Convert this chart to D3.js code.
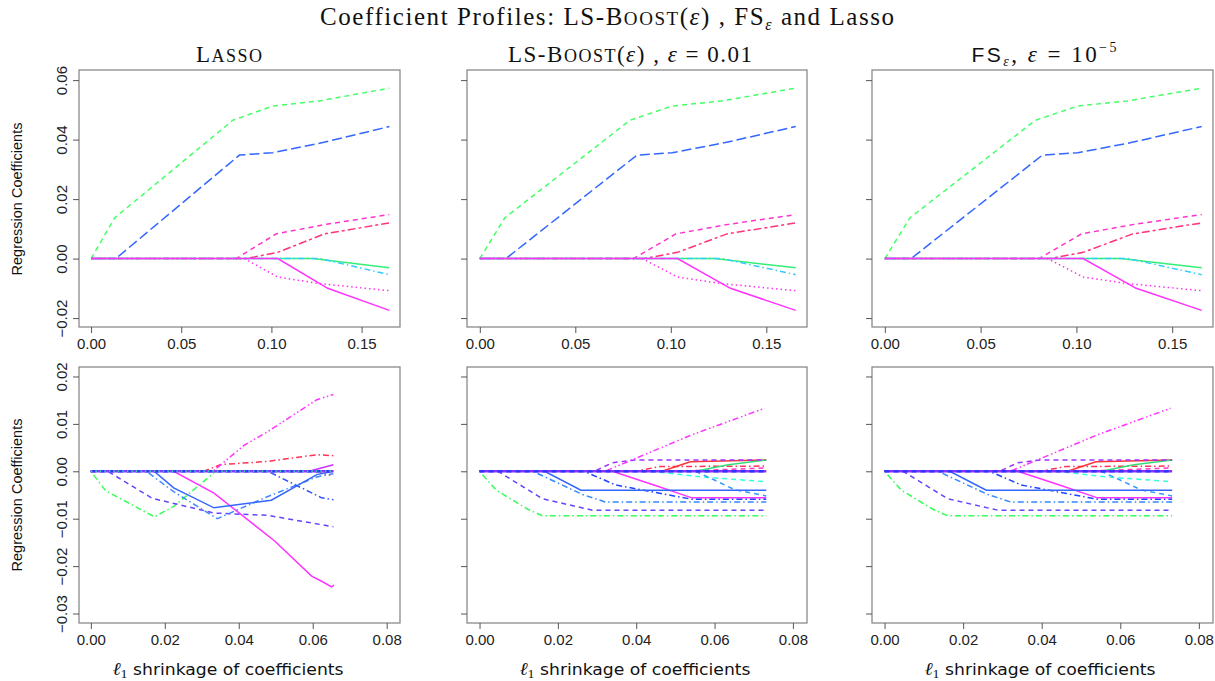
<!DOCTYPE html>
<html><head><meta charset="utf-8">
<script src="https://cdn.jsdelivr.net/npm/d3@7"></script>
<style>body{margin:0;background:#fff}</style>
</head><body><svg id="c" width="1215" height="681"></svg>
<script>
// ---------- tick values ----------
const topTicksX = [0, 0.05, 0.10, 0.15];
const topTicksY = [-0.02, 0, 0.02, 0.04, 0.06];
const botTicksX = [0, 0.02, 0.04, 0.06, 0.08];
const botTicksY = [-0.03, -0.02, -0.01, 0, 0.01, 0.02];

// ---------- top row data ([l1 shrinkage, coefficient]) ----------
const topGreenDash   = [[0,0],[0.0131,0.0137],[0.0786,0.0465],[0.1008,0.0513],[0.1266,0.0530],[0.1654,0.0573]];
const topBlueLong    = [[0,0],[0.0137,0],[0.0823,0.0348],[0.1008,0.0356],[0.1285,0.0390],[0.1654,0.0444]];
const topMagentaDash = [[0,0],[0.0805,0],[0.1026,0.0083],[0.1300,0.0115],[0.1654,0.0148]];
const topRedTwoDash  = [[0,0],[0.0860,0],[0.1035,0.0021],[0.1294,0.0083],[0.1654,0.0120]];
const topPinkDot     = [[0,0],[0.0850,0],[0.1035,-0.0062],[0.1266,-0.0084],[0.1654,-0.0108]];
const topGreenSolid  = [[0,0],[0.1229,0],[0.1654,-0.0031]];
const topCyanDotDash = [[0,0],[0.1270,0],[0.1654,-0.0054]];
const topMagentaSolid= [[0,0],[0.1035,0],[0.1312,-0.0100],[0.1654,-0.0174]];

// ---------- bottom row, Lasso ----------
const lasGreenDotDash  = [[0,0],[0.0040,-0.0041],[0.0172,-0.0096],[0.0224,-0.0074],[0.0338,0],[0.0656,0]];
const lasSlateDash     = [[0,0],[0.0046,0],[0.0166,-0.0057],[0.0333,-0.0088],[0.0479,-0.0093],[0.0656,-0.0117]];
const lasBlueSolid     = [[0,0],[0.0171,0],[0.0224,-0.0035],[0.0333,-0.0077],[0.0488,-0.0061],[0.0611,-0.0007],[0.0656,0]];
const lasLightDotDash  = [[0,0],[0.0150,0],[0.0224,-0.0043],[0.0342,-0.0100],[0.0470,-0.0056],[0.0611,-0.0012],[0.0656,-0.0005]];
const lasBlueDotDash   = [[0,0],[0.0479,0],[0.0624,-0.0056],[0.0656,-0.0060]];
const lasMagentaSolid  = [[0,0],[0.0224,0],[0.0333,-0.0046],[0.0497,-0.0147],[0.0597,-0.0221],[0.0624,-0.0232],[0.0651,-0.0244],[0.0658,-0.0240]];
const lasMagentaDotDash= [[0,0],[0.0330,0],[0.0415,0.0055],[0.0479,0.0084],[0.0611,0.0151],[0.0656,0.0162]];
const lasRedDotDash    = [[0,0],[0.0306,0],[0.0350,0.0014],[0.0479,0.0021],[0.0611,0.0035],[0.0656,0.0033]];
const lasPurpleSolid   = [[0,0],[0.0590,0],[0.0656,0.0014]];
const lasRedDot        = [[0,0],[0.0600,0],[0.0656,-0.0010]];
const lasTealZero      = [[0,0],[0.0656,0]];
const lasPurpleZero    = [[0,0],[0.0656,0]];
const lasBlueZero      = [[0,0],[0.0656,0]];

// ---------- bottom row, LS-Boost / FS ----------
const bstGreenDotDash  = [[0,0],[0.0043,-0.0040],[0.0123,-0.0080],[0.0161,-0.0094],[0.0732,-0.0094]];
const bstSlateDash     = [[0,0],[0.0047,0],[0.0161,-0.0058],[0.0288,-0.0082],[0.0732,-0.0082]];
const bstBlueSolid     = [[0,0],[0.0166,0],[0.0259,-0.0040],[0.0732,-0.0040]];
const bstLightDotDash  = [[0,0],[0.0136,0],[0.0263,-0.0049],[0.0322,-0.0065],[0.0732,-0.0065]];
const bstBlueDotDash   = [[0,0],[0.0267,0],[0.0348,-0.0029],[0.0542,-0.0059],[0.0732,-0.0059]];
const bstMagentaSolid  = [[0,0],[0.0339,0],[0.0449,-0.0030],[0.0542,-0.0056],[0.0732,-0.0056]];
const bstMagentaDotDash= [[0,0],[0.0320,0],[0.0542,0.0077],[0.0728,0.0133]];
const bstPurpleDash    = [[0,0],[0.0293,0],[0.0339,0.0018],[0.0398,0.0024],[0.0732,0.0024]];
const bstRedSolid      = [[0,0],[0.0466,0],[0.0538,0.0020],[0.0732,0.0024]];
const bstGreenSolid    = [[0,0],[0.0551,0],[0.0635,0.0014],[0.0732,0.0024]];
const bstCyanDash      = [[0,0],[0.0440,0],[0.0567,-0.0012],[0.0732,-0.0022]];
const bstSkyDash       = [[0,0],[0.0551,0],[0.0601,-0.0019],[0.0652,-0.0039],[0.0732,-0.0052]];
const bstRedDotDash    = [[0,0],[0.0398,0],[0.0460,0.0010],[0.0732,0.0011]];
const bstPinkDash      = [[0,0],[0.0500,0],[0.0732,0.0007]];
const bstPurpleZero    = [[0,0],[0.0732,0]];
const bstBlueZero      = [[0,0],[0.0732,0]];

// ---------- styles ----------
const DASH = {solid:null, dashed:"5,4", longdash:"10,4", dotted:"1.5,3", dotdash:"1.5,3,6,3", twodash:"3,3,8,3", dotdotdash:"1.5,2.5,1.5,2.5,6,3"};
const topSeries = [
  {d:topGreenDash,  c:"#44ff66", l:"dashed"},
  {d:topBlueLong,   c:"#3366ff", l:"longdash"},
  {d:topMagentaDash,c:"#ff33cc", l:"dashed"},
  {d:topRedTwoDash, c:"#ff3377", l:"twodash"},
  {d:topPinkDot,    c:"#ff33ee", l:"dotted"},
  {d:topGreenSolid, c:"#33ee77", l:"solid"},
  {d:topCyanDotDash,c:"#33ccff", l:"dotdash"},
  {d:topMagentaSolid,c:"#ff33ff", l:"solid"}
];
const lasSeries = [
  {d:lasRedDot,        c:"#ff3355", l:"dotted"},
  {d:lasPurpleSolid,   c:"#cc33ff", l:"solid"},
  {d:lasRedDotDash,    c:"#ff3355", l:"dotdash"},
  {d:lasMagentaDotDash,c:"#ff33ff", l:"dotdotdash"},
  {d:lasMagentaSolid,  c:"#ff33ff", l:"solid"},
  {d:lasGreenDotDash,  c:"#33ff55", l:"dotdash"},
  {d:lasSlateDash,     c:"#6644ff", l:"dashed"},
  {d:lasLightDotDash,  c:"#4488ff", l:"dotdash"},
  {d:lasBlueDotDash,   c:"#3355ff", l:"dotdash"},
  {d:lasBlueSolid,     c:"#3366ff", l:"solid"},
  {d:lasPurpleZero,    c:"#8833ff", l:"solid", w:2.6},
  {d:lasBlueZero,      c:"#3333ff", l:"dashed", w:2.6},
  {d:lasTealZero,      c:"#33ccaa", l:"dotted", w:2}
];
const bstSeries = [
  {d:bstPinkDash,      c:"#ff33cc", l:"dashed"},
  {d:bstRedDotDash,    c:"#ff3355", l:"dotdash"},
  {d:bstRedSolid,      c:"#ff3333", l:"solid"},
  {d:bstGreenSolid,    c:"#33dd77", l:"solid"},
  {d:bstCyanDash,      c:"#33ffdd", l:"dashed"},
  {d:bstSkyDash,       c:"#3399ff", l:"dashed"},
  {d:bstMagentaDotDash,c:"#ff33ff", l:"dotdotdash"},
  {d:bstMagentaSolid,  c:"#ff33ff", l:"solid"},
  {d:bstPurpleDash,    c:"#9933ff", l:"dashed"},
  {d:bstGreenDotDash,  c:"#33ff55", l:"dotdash"},
  {d:bstSlateDash,     c:"#6644ff", l:"dashed"},
  {d:bstLightDotDash,  c:"#3388ff", l:"dotdash"},
  {d:bstBlueDotDash,   c:"#2244ff", l:"dotdash"},
  {d:bstBlueSolid,     c:"#3366ff", l:"solid"},
  {d:bstPurpleZero,    c:"#8833ff", l:"solid", w:2.6},
  {d:bstBlueZero,      c:"#3333ff", l:"dashed", w:2.6}
];

const svg = d3.select("#c");
const SANS = "'Liberation Sans', Arial, sans-serif";
const DSANS = "'DejaVu Sans', 'Liberation Sans', sans-serif";
const SERIF = "'Liberation Serif', 'DejaVu Serif', serif";
const fmt = d3.format(".2f");

function panel(box, xDom, yDom, xTicks, yTicks, yLabels, series){
  const x = d3.scaleLinear().domain(xDom).range([box.x0, box.x1]);
  const y = d3.scaleLinear().domain(yDom).range([box.y1, box.y0]);
  const g = svg.append("g");
  const line = d3.line().x(d => x(d[0])).y(d => y(d[1]));
  series.forEach(s => {
    g.append("path").attr("d", line(s.d)).attr("fill","none")
     .attr("stroke", s.c).attr("stroke-width", s.w || 1.5)
     .attr("stroke-dasharray", DASH[s.l]);
  });
  g.append("rect").attr("x", box.x0).attr("y", box.y0)
   .attr("width", box.x1-box.x0).attr("height", box.y1-box.y0)
   .attr("fill","none").attr("stroke","#808080").attr("stroke-width",1.2);
  const ax = g.append("g").attr("transform", `translate(0,${box.y1})`)
    .call(d3.axisBottom(x).tickValues(xTicks).tickFormat(fmt).tickSize(6).tickSizeOuter(0));
  ax.select(".domain").remove();
  ax.selectAll("line").attr("stroke","#555");
  ax.selectAll("text").attr("y", 22).attr("dy", 0)
    .style("font-family", SANS).style("font-size","15px").attr("fill","#222");
  const ay = g.append("g").attr("transform", `translate(${box.x0},0)`)
    .call(d3.axisLeft(y).tickValues(yTicks).tickFormat(fmt).tickSize(6).tickSizeOuter(0));
  ay.select(".domain").remove();
  ay.selectAll("line").attr("stroke","#555");
  if (yLabels) {
    ay.selectAll("text").attr("transform","rotate(-90)").attr("x",0).attr("y",-12.5).attr("dy",0)
      .attr("text-anchor","middle")
      .style("font-family", SANS).style("font-size","15px").attr("fill","#222");
  } else {
    ay.selectAll("text").remove();
  }
}

const topX = [-0.0067, 0.1713], topY = [-0.0230, 0.0634];
const botX = [-0.0032, 0.0836], botY = [-0.0320, 0.0220];
const cols = [{x0:79, x1:400}, {x0:467, x1:807}, {x0:872, x1:1213}];
const topRow = {y0:70, y1:327}, botRow = {y0:367, y1:623};

panel({...cols[0], ...topRow}, topX, topY, topTicksX, topTicksY, true, topSeries);
panel({...cols[1], ...topRow}, topX, topY, topTicksX, topTicksY, false, topSeries);
panel({...cols[2], ...topRow}, topX, topY, topTicksX, topTicksY, false, topSeries);
panel({...cols[0], ...botRow}, botX, botY, botTicksX, botTicksY, true, lasSeries);
panel({...cols[1], ...botRow}, botX, botY, botTicksX, botTicksY, false, bstSeries);
panel({...cols[2], ...botRow}, botX, botY, botTicksX, botTicksY, false, bstSeries);

// ---------- titles ----------
const t = svg.append("text").attr("x", 607).attr("y", 25).attr("text-anchor","middle")
  .attr("textLength", 574).attr("lengthAdjust","spacing")
  .style("font-family", SERIF).style("font-size","25px").attr("fill","#111");
t.append("tspan").text("Coefficient Profiles: LS-B");
t.append("tspan").style("font-size","19px").text("OOST");
t.append("tspan").text("(");
t.append("tspan").style("font-style","italic").text("ε");
t.append("tspan").text(") , FS");
t.append("tspan").style("font-style","italic").style("font-size","16px").attr("dy",5).text("ε");
t.append("tspan").attr("dy",-5).text(" and Lasso");

const p1 = svg.append("text").attr("x", 229).attr("y", 62).attr("text-anchor","middle")
  .attr("textLength", 66).attr("lengthAdjust","spacing")
  .style("font-family", SERIF).style("font-size","23px").attr("fill","#111");
p1.append("tspan").text("L");
p1.append("tspan").style("font-size","18px").text("ASSO");

const p2 = svg.append("text").attr("x", 630).attr("y", 62).attr("text-anchor","middle")
  .attr("textLength", 244).attr("lengthAdjust","spacing")
  .style("font-family", SERIF).style("font-size","23px").attr("fill","#111");
p2.append("tspan").text("LS-B");
p2.append("tspan").style("font-size","18px").text("OOST");
p2.append("tspan").text("(");
p2.append("tspan").style("font-style","italic").text("ε");
p2.append("tspan").text(") , ");
p2.append("tspan").style("font-style","italic").text("ε");
p2.append("tspan").text(" = 0.01");

const p3 = svg.append("text").attr("x", 1044).attr("y", 62).attr("text-anchor","middle")
  .attr("textLength", 145).attr("lengthAdjust","spacing")
  .style("font-family", SERIF).style("font-size","23px").attr("fill","#111");
p3.append("tspan").style("font-family", SANS).style("font-size","21px").text("FS");
p3.append("tspan").style("font-style","italic").style("font-size","14px").attr("dy",4).text("ε");
p3.append("tspan").attr("dy",-4).text(", ");
p3.append("tspan").style("font-style","italic").text("ε");
p3.append("tspan").text(" = 10");
p3.append("tspan").style("font-size","14px").attr("dy",-10).text("−5");

// axis titles
[199, 495].forEach(cy => {
  svg.append("text").attr("transform", `translate(22,${cy}) rotate(-90)`).attr("text-anchor","middle")
    .style("font-family", SANS).style("font-size","14.5px").attr("fill","#111").text("Regression Coefficients");
});
[228, 635, 1040].forEach(cx => {
  const xl = svg.append("text").attr("x", cx).attr("y", 675).attr("text-anchor","middle")
    .attr("textLength", 231).attr("lengthAdjust","spacingAndGlyphs")
    .style("font-family", DSANS).style("font-size","16px").attr("fill","#111");
  xl.append("tspan").style("font-family", SERIF).style("font-style","italic").style("font-size","18px").text("ℓ");
  xl.append("tspan").style("font-family", SERIF).style("font-size","13px").attr("dy",3).text("1");
  xl.append("tspan").attr("dy",-3).text(" shrinkage of coefficients");
});
</script></body></html>
